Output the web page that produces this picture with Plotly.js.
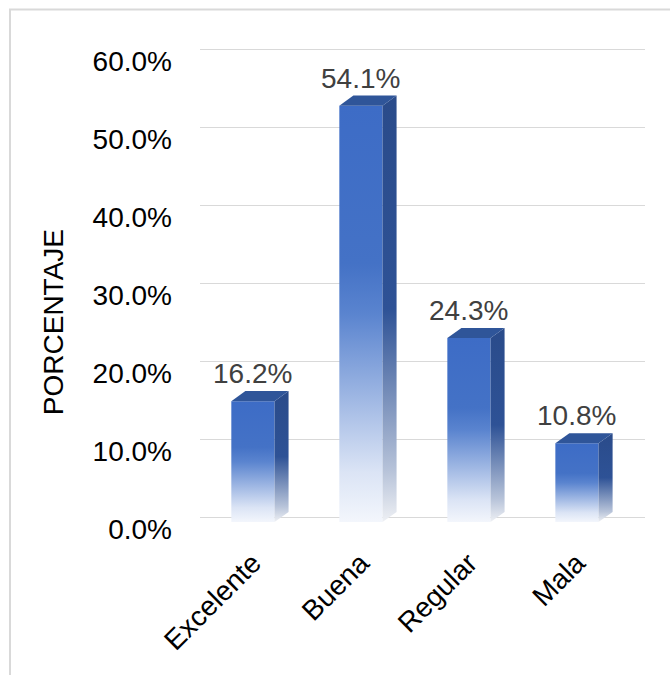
<!DOCTYPE html>
<html>
<head>
<meta charset="utf-8">
<script src="https://cdn.plot.ly/plotly-3.0.1.min.js"></script>
<style>
html,body{margin:0;padding:0;background:#fff;}
#chart{width:670px;height:675px;}
</style>
</head>
<body>
<div id="chart"></div>
<script>
// ---- data ----
const categories = ["Excelente", "Buena", "Regular", "Mala"];
const values = [16.2, 54.1, 24.3, 10.8];
const yTickVals = [0, 10, 20, 30, 40, 50, 60];
const yTickText = ["0.0%", "10.0%", "20.0%", "30.0%", "40.0%", "50.0%", "60.0%"];
const yTitle = "PORCENTAJE";

// ---- 3D-look styling (geometry in axis units) ----
const halfW = 0.2;   // half width of front face
const dx = 0.13;     // depth offset in x
const dy = 1.3;      // depth offset in y
const base = -0.6;   // floor level of front face
const labelShift = 1.5; // front-plane offset of the value labels (axis units)

const frontScale = [[0, "#f3f6fc"], [0.12, "#dbe4f5"], [0.5, "#5a84cf"], [0.62, "#4472c6"], [1, "#3d6cc6"]];
const sideScale = [[0, "#eef0f4"], [0.12, "#b7c3d9"], [0.5, "#2e5296"], [1, "#2a4b8a"]];

const traces = [];
categories.forEach((cat, i) => {
  const v = values[i];
  const xl = i - halfW, xr = i + halfW;
  // front face
  traces.push({
    type: "scatter", mode: "lines", fill: "toself",
    x: [xl, xr, xr, xl, xl],
    y: [base, base, v - dy, v - dy, base],
    line: {width: 0, color: "rgba(0,0,0,0)"},
    fillgradient: {type: "vertical", colorscale: frontScale},
    name: cat, text: cat + ": " + v.toFixed(1) + "%", hoverinfo: "text",
    showlegend: false
  });
  // side face
  traces.push({
    type: "scatter", mode: "lines", fill: "toself",
    x: [xr, xr + dx, xr + dx, xr, xr],
    y: [base, base + dy, v, v - dy, base],
    line: {width: 0, color: "rgba(0,0,0,0)"},
    fillgradient: {type: "vertical", colorscale: sideScale},
    hoverinfo: "skip", showlegend: false
  });
  // top face
  traces.push({
    type: "scatter", mode: "lines", fill: "toself",
    x: [xl, xl + dx, xr + dx, xr, xl],
    y: [v - dy, v, v, v - dy, v - dy],
    line: {width: 0, color: "rgba(0,0,0,0)"},
    fillcolor: "#2f5599",
    hoverinfo: "skip", showlegend: false
  });
});
// empty trace that attaches the front-plane label axis
traces.push({type: "scatter", mode: "none", x: [], y: [], yaxis: "y2", hoverinfo: "skip", showlegend: false});

const annotations = categories.map((cat, i) => ({
  x: i, y: values[i], xref: "x", yref: "y",
  text: values[i].toFixed(1) + "%",
  showarrow: false, yanchor: "bottom", yshift: 0,
  font: {family: "Liberation Sans, Arial, sans-serif", size: 28, color: "#404040"}
}));
annotations.push({
  x: -0.33, y: 0.435, xref: "paper", yref: "paper",
  xanchor: "center", yanchor: "middle",
  text: yTitle, textangle: -90, showarrow: false,
  font: {family: "Liberation Sans, Arial, sans-serif", size: 28, color: "#000000"}
});

const yRange = [-2, 60.2];

const layout = {
  width: 670, height: 675,
  margin: {l: 200, r: 25, t: 48, b: 142},
  paper_bgcolor: "#ffffff", plot_bgcolor: "#ffffff",
  font: {family: "Liberation Sans, Arial, sans-serif", size: 28, color: "#000000"},
  showlegend: false,
  xaxis: {
    type: "linear", range: [-0.49, 3.63],
    tickvals: categories.map((c, i) => i), ticktext: categories,
    tickangle: -45, showgrid: false, zeroline: false, showline: false,
    ticks: "", ticklabelstandoff: 7,
    tickfont: {size: 28, color: "#000000"}
  },
  // back-wall gridlines
  yaxis: {
    range: yRange,
    tickvals: yTickVals,
    showgrid: true, gridcolor: "#d9d9d9", gridwidth: 1,
    zeroline: false, showline: false, ticks: "", showticklabels: false
  },
  // front-plane value labels
  yaxis2: {
    overlaying: "y", side: "left",
    range: [yRange[0] + labelShift, yRange[1] + labelShift],
    tickvals: yTickVals, ticktext: yTickText,
    showgrid: false, zeroline: false, showline: false, ticks: "",
    ticklabelstandoff: 27,
    tickfont: {size: 28, color: "#000000"}
  },
  annotations: annotations,
  shapes: [{
    type: "rect", xref: "paper", yref: "paper",
    x0: -0.427, x1: 1.5, y0: -0.5, y1: 1.0793,
    line: {color: "#d9d9d9", width: 2}, fillcolor: "rgba(0,0,0,0)", layer: "below"
  }]
};

Plotly.newPlot("chart", traces, layout, {displayModeBar: false});
</script>
</body>
</html>
